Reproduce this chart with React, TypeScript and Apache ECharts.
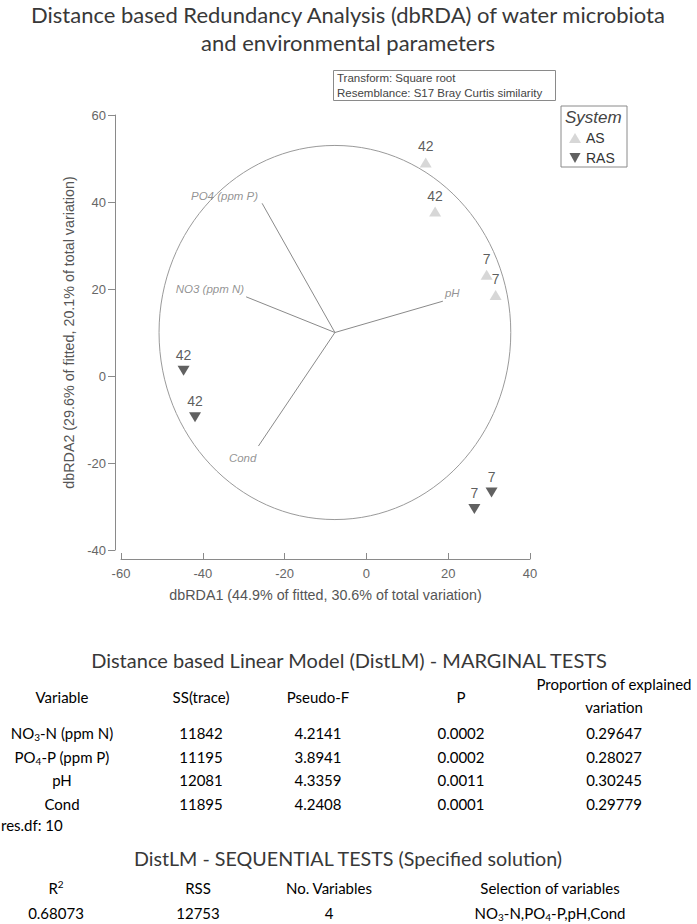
import React, { useEffect, useRef } from 'react';
import * as echarts from 'echarts';

// ---------- data ----------
const xAxisMin = -60;
const xAxisMax = 40;
const xAxisStep = 20;
const yAxisMin = -40;
const yAxisMax = 60;
const yAxisStep = 20;

const chartTitleLines = [
  'Distance based Redundancy Analysis (dbRDA) of water microbiota',
  'and environmental parameters',
];
const xAxisTitle = 'dbRDA1 (44.9% of fitted, 30.6% of total variation)';
const yAxisTitle = 'dbRDA2 (29.6% of fitted, 20.1% of total variation)';
const infoLines = ['Transform: Square root', 'Resemblance: S17 Bray Curtis similarity'];
const legendTitle = 'System';

const asX = [14.5, 16.8, 29.4, 31.6];
const asY = [49.1, 37.8, 23.3, 18.6];
const asLabels = ['42', '42', '7', '7'];

const rasX = [-44.7, -41.9, 30.6, 26.4];
const rasY = [1.2, -9.5, -26.8, -30.6];
const rasLabels = ['42', '42', '7', '7'];

const vectorNames = ['PO4 (ppm P)', 'NO3 (ppm N)', 'pH', 'Cond'];
const vectorEndX = [-25.5, -29.4, 18.7, -26.4];
const vectorEndY = [39.7, 18.2, 17.2, -16.1];
const vectorOrigin = [-7.7, 10.0];
const circleRadius = 43;

const marginalTitle = 'Distance based Linear Model (DistLM) - MARGINAL TESTS';
const marginalHeaders = ['Variable', 'SS(trace)', 'Pseudo-F', 'P', 'Proportion of explained\nvariation'];
const marginalVariables = ['NO3-N (ppm N)', 'PO4-P (ppm P)', 'pH', 'Cond'];
const marginalSS = ['11842', '11195', '12081', '11895'];
const marginalPseudoF = ['4.2141', '3.8941', '4.3359', '4.2408'];
const marginalP = ['0.0002', '0.0002', '0.0011', '0.0001'];
const marginalProportion = ['0.29647', '0.28027', '0.30245', '0.29779'];
const resDfText = 'res.df: 10';

const sequentialTitle = 'DistLM - SEQUENTIAL TESTS (Specified solution)';
const sequentialHeaders = ['R2', 'RSS', 'No. Variables', 'Selection of variables'];
const sequentialValues = ['0.68073', '12753', '4', 'NO3-N,PO4-P,pH,Cond'];

// ---------- styling ----------
const ARIAL = '"Liberation Sans", Arial, sans-serif';
const CALIBRI = 'Lato, "Open Sans", sans-serif';
const TEXT_DARK = '#333333';
const TABLE_COLOR = '#404040';

const richify = (s: string) => '{n|' + s.replace(/(NO|PO)(\d)/g, '$1}{s|$2}{n|') + '}';
const richHeader = (s: string) => (s === 'R2' ? '{n|R}{u|2}' : '{n|' + s + '}');

const tableRich = (size: number) => ({
  n: { fontSize: size, fontFamily: CALIBRI, color: TABLE_COLOR, lineHeight: 18 },
  s: { fontSize: 10, fontFamily: CALIBRI, color: TABLE_COLOR, lineHeight: 10, verticalAlign: 'bottom' },
  u: { fontSize: 10, fontFamily: CALIBRI, color: TABLE_COLOR, lineHeight: 10, verticalAlign: 'top' },
});

const TABLE_FS = 15;

function tableText(text: string, x: number, y: number, align = 'center') {
  return {
    type: 'text',
    x,
    y,
    silent: true,
    style: {
      text,
      align,
      verticalAlign: 'middle',
      textAlign: align,
      textVerticalAlign: 'middle',
      rich: tableRich(TABLE_FS),
    },
  };
}

function plainText(text: string, x: number, y: number, font: any) {
  return {
    type: 'text',
    x,
    y,
    silent: true,
    style: {
      text,
      align: font.align || 'center',
      verticalAlign: 'middle',
      textAlign: font.align || 'center',
      textVerticalAlign: 'middle',
      fill: font.color || TEXT_DARK,
      fontSize: font.size,
      fontFamily: font.family,
      fontStyle: font.style || 'normal',
    },
  };
}

const vectorLabelPlacement: Record<string, any> = {
  'PO4 (ppm P)': { position: [-4, -7], align: 'right' },
  'NO3 (ppm N)': { position: [-2, -8], align: 'right' },
  pH: { position: [2, -8], align: 'left' },
  Cond: { position: [-2, 12], align: 'right' },
};

export default function App() {
  const ref = useRef<HTMLDivElement>(null);

  useEffect(() => {
    if (!ref.current) return;
    const chart = echarts.init(ref.current, undefined, { renderer: 'svg' });

    const marginalCols = [62, 201, 318, 461, 614];
    const rowYs = [733, 757, 780, 804];
    const seqCols = [56, 198, 329, 550];

    const graphics: any[] = [];
    chartTitleLines.forEach((t, i) =>
      graphics.push(plainText(t, 348, 14 + i * 28, { size: 22, family: CALIBRI, color: '#383838' }))
    );
    // info box
    graphics.push({
      type: 'rect',
      silent: true,
      shape: { x: 333.5, y: 70.5, width: 222, height: 30 },
      style: { fill: '#fff', stroke: '#8a8a8a', lineWidth: 1 },
    });
    infoLines.forEach((t, i) =>
      graphics.push(
        plainText(t, 337, 78 + i * 15, { size: 11.5, family: ARIAL, align: 'left', color: '#444' })
      )
    );
    // legend box
    graphics.push({
      type: 'rect',
      silent: true,
      shape: { x: 561, y: 106, width: 66, height: 61 },
      style: { fill: '#fff', stroke: '#8a8a8a', lineWidth: 1 },
    });
    graphics.push(
      plainText(legendTitle, 565, 117.5, { size: 17, family: ARIAL, align: 'left', style: 'italic', color: '#444' })
    );

    // marginal tests
    graphics.push(plainText(marginalTitle, 349, 660, { size: 20, family: CALIBRI, color: '#383838' }));
    marginalHeaders.forEach((h, i) => {
      if (h.includes('\n')) {
        h.split('\n').forEach((part, j) => graphics.push(tableText(richHeader(part), marginalCols[i], 684 + j * 23)));
      } else {
        graphics.push(tableText(richHeader(h), marginalCols[i], 696.5));
      }
    });
    const columns = [marginalVariables, marginalSS, marginalPseudoF, marginalP, marginalProportion];
    columns.forEach((col, ci) =>
      col.forEach((v, ri) => graphics.push(tableText(richify(v), marginalCols[ci], rowYs[ri])))
    );
    graphics.push(tableText(richify(resDfText), 1, 825, 'left'));

    // sequential tests
    graphics.push(plainText(sequentialTitle, 348, 858, { size: 19.7, family: CALIBRI, color: '#383838' }));
    sequentialHeaders.forEach((h, i) => graphics.push(tableText(richHeader(h), seqCols[i], 888)));
    sequentialValues.forEach((v, i) => graphics.push(tableText(richify(v), seqCols[i], 913)));

    const pointLabel = {
      show: true,
      position: 'top',
      distance: 4,
      formatter: '{b}',
      color: TEXT_DARK,
      fontSize: 14,
      fontFamily: ARIAL,
    };

    const downTriangle = 'path://M0,0L10,0L5,9Z';

    const option: any = {
      animation: false,
      backgroundColor: '#ffffff',
      grid: {
        left: 121,
        right: 167,
        top: 115,
        bottom: 374,
        containLabel: false,
        outerBoundsMode: 'none',
      },
      legend: {
        orient: 'vertical',
        left: 564,
        top: 126,
        itemWidth: 12,
        itemHeight: 10,
        itemGap: 6,
        selectedMode: false,
        textStyle: { fontSize: 14, color: TEXT_DARK, fontFamily: ARIAL },
        data: [
          { name: 'AS', icon: 'triangle' },
          { name: 'RAS', icon: downTriangle },
        ],
      },
      xAxis: {
        type: 'value',
        min: xAxisMin,
        max: xAxisMax,
        interval: xAxisStep,
        offset: 9,
        name: xAxisTitle,
        nameLocation: 'middle',
        nameGap: 29,
        nameTextStyle: { color: '#555', fontSize: 14.3, fontFamily: ARIAL },
        axisLine: { show: true, onZero: false, lineStyle: { color: '#8a8a8a' } },
        axisTick: { show: true, inside: true, length: 6, lineStyle: { color: '#8a8a8a' } },
        axisLabel: { color: '#666', fontSize: 13, fontFamily: ARIAL, margin: 8 },
        splitLine: { show: false },
      },
      yAxis: {
        type: 'value',
        min: yAxisMin,
        max: yAxisMax,
        interval: yAxisStep,
        offset: 6,
        name: yAxisTitle,
        nameLocation: 'middle',
        nameGap: 36,
        nameTextStyle: { color: '#555', fontSize: 14.3, fontFamily: ARIAL },
        axisLine: { show: true, onZero: false, lineStyle: { color: '#8a8a8a' } },
        axisTick: { show: true, inside: false, length: 7, lineStyle: { color: '#8a8a8a' } },
        axisLabel: { color: '#666', fontSize: 13, fontFamily: ARIAL, margin: 9 },
        splitLine: { show: false },
      },
      series: [
        {
          type: 'custom',
          name: 'circle',
          silent: true,
          z: 1,
          data: [[vectorOrigin[0], vectorOrigin[1], circleRadius]],
          renderItem: (params: any, api: any) => {
            const c = api.coord([api.value(0), api.value(1)]);
            const s = api.size([api.value(2), api.value(2)], [api.value(0), api.value(1)]);
            return {
              type: 'ellipse',
              shape: { cx: c[0], cy: c[1], rx: s[0], ry: s[1] },
              style: { fill: 'none', stroke: '#9a9a9a', lineWidth: 1 },
            };
          },
        },
        {
          type: 'lines',
          name: 'vectors',
          coordinateSystem: 'cartesian2d',
          silent: true,
          z: 2,
          symbol: 'none',
          lineStyle: { color: '#8a8a8a', width: 1, opacity: 1 },
          data: vectorNames.map((n, i) => ({
            coords: [vectorOrigin, [vectorEndX[i], vectorEndY[i]]],
          })),
        },
        {
          type: 'scatter',
          name: 'vectorLabels',
          silent: true,
          z: 3,
          symbolSize: 0,
          data: vectorNames.map((n, i) => ({
            name: n,
            value: [vectorEndX[i], vectorEndY[i]],
            label: {
              show: true,
              formatter: '{b}',
              position: vectorLabelPlacement[n].position,
              align: vectorLabelPlacement[n].align,
              verticalAlign: 'middle',
              color: '#777',
              fontStyle: 'italic',
              fontSize: 11.5,
              fontFamily: ARIAL,
            },
          })),
        },
        {
          type: 'scatter',
          name: 'AS',
          symbol: 'triangle',
          symbolSize: [12, 10],
          z: 4,
          itemStyle: { color: '#cdcdcd' },
          label: pointLabel,
          data: asX.map((x, i) => ({ name: asLabels[i], value: [x, asY[i]] })),
        },
        {
          type: 'scatter',
          name: 'RAS',
          symbol: downTriangle,
          symbolSize: [12, 10],
          z: 4,
          itemStyle: { color: '#3a3a3a' },
          label: pointLabel,
          data: rasX.map((x, i) => ({ name: rasLabels[i], value: [x, rasY[i]] })),
        },
      ],
      graphic: { elements: graphics },
    };

    chart.setOption(option);
    return () => chart.dispose();
  }, []);

  return (
    <div
      ref={ref}
      style={{ position: 'absolute', left: 0, top: 0, width: 697, height: 924, background: '#fff' }}
    />
  );
}
